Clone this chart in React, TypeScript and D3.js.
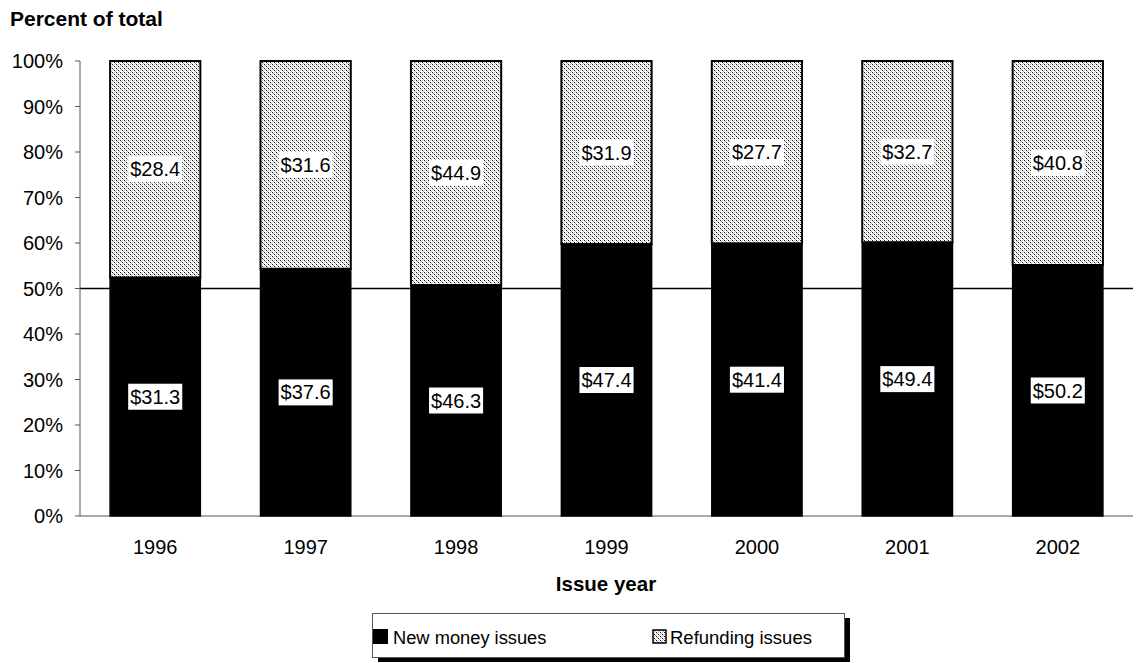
import React, { useEffect, useRef } from "react";
import * as d3 from "d3";

const years = ["1996", "1997", "1998", "1999", "2000", "2001", "2002"];
const newMoney = [31.3, 37.6, 46.3, 47.4, 41.4, 49.4, 50.2];
const refunding = [28.4, 31.6, 44.9, 31.9, 27.7, 32.7, 40.8];
const yTicks = [0, 10, 20, 30, 40, 50, 60, 70, 80, 90, 100];
const legendLabels = ["New money issues", "Refunding issues"];

const W = 1141;
const H = 663;
const FONT = "Liberation Sans, Arial, sans-serif";

export default function App() {
  const ref = useRef<SVGSVGElement>(null);

  useEffect(() => {
    const svg = d3.select(ref.current);
    svg.selectAll("*").remove();

    const defs = svg.append("defs");
    const pat = defs
      .append("pattern")
      .attr("id", "dots")
      .attr("patternUnits", "userSpaceOnUse")
      .attr("width", 4)
      .attr("height", 4);
    pat.append("rect").attr("width", 4).attr("height", 4).attr("fill", "#fff");
    const px: [number, number, string][] = [
      [0, 0, "#111"],
      [2, 2, "#111"],
      [1, 1, "#aaa"],
      [3, 3, "#aaa"],
      [2, 0, "#ccc"],
      [0, 2, "#ccc"],
    ];
    px.forEach(([a, b, c]) =>
      pat.append("rect").attr("x", a).attr("y", b).attr("width", 1).attr("height", 1).attr("fill", c)
    );

    const left = 80;
    const right = 1133;
    const top = 61;
    const bottom = 516;

    const x = d3.scaleBand<string>().domain(years).range([left, right]).paddingInner(0.4).paddingOuter(0.2);
    const y = d3.scaleLinear().domain([0, 100]).range([bottom, top]);

    const g = svg.append("g");

    // 50% reference line
    g.append("line")
      .attr("x1", left)
      .attr("x2", right)
      .attr("y1", y(50))
      .attr("y2", y(50))
      .attr("stroke", "#000")
      .attr("stroke-width", 1.5);

    // axes
    g.append("line").attr("x1", left).attr("x2", left).attr("y1", top).attr("y2", bottom).attr("stroke", "#555").attr("stroke-width", 1);
    g.append("line").attr("x1", left).attr("x2", right).attr("y1", bottom).attr("y2", bottom).attr("stroke", "#555").attr("stroke-width", 1);

    yTicks.forEach((t) => {
      g.append("line").attr("x1", left - 5).attr("x2", left).attr("y1", y(t)).attr("y2", y(t)).attr("stroke", "#555");
      g.append("text")
        .attr("x", 63)
        .attr("y", y(t) + 7)
        .attr("text-anchor", "end")
        .attr("font-family", FONT)
        .attr("font-size", 20)
        .text(`${t}%`);
    });

    years.forEach((yr, i) => {
      const total = newMoney[i] + refunding[i];
      const pNew = (newMoney[i] / total) * 100;
      const bx = x(yr)!;
      const bw = x.bandwidth();
      // new money
      g.append("rect")
        .attr("x", bx)
        .attr("y", y(pNew))
        .attr("width", bw)
        .attr("height", y(0) - y(pNew))
        .attr("fill", "#000")
        .attr("stroke", "#000")
        .attr("stroke-width", 1.5);
      // refunding
      g.append("rect")
        .attr("x", bx)
        .attr("y", y(100))
        .attr("width", bw)
        .attr("height", y(pNew) - y(100))
        .attr("fill", "url(#dots)")
        .attr("stroke", "#000")
        .attr("stroke-width", 2);

      const cx = bx + bw / 2;
      const labels = [
        { v: newMoney[i], cy: (y(0) + y(pNew)) / 2 },
        { v: refunding[i], cy: (y(pNew) + y(100)) / 2 },
      ];
      labels.forEach((l) => {
        const rect = g.append("rect").attr("fill", "#fff");
        const txt = g
          .append("text")
          .attr("x", cx)
          .attr("y", l.cy + 7)
          .attr("text-anchor", "middle")
          .attr("font-family", FONT)
          .attr("font-size", 20)
          .text(`$${l.v.toFixed(1)}`);
        const bb = (txt.node() as SVGTextElement).getBBox();
        rect
          .attr("x", bb.x - 2)
          .attr("y", l.cy - 13)
          .attr("width", bb.width + 4)
          .attr("height", 26);
      });

      g.append("text")
        .attr("x", cx)
        .attr("y", 554)
        .attr("text-anchor", "middle")
        .attr("font-family", FONT)
        .attr("font-size", 20)
        .text(yr);
    });

    // titles
    svg.append("text")
      .attr("x", 10)
      .attr("y", 26)
      .attr("font-family", FONT)
      .attr("font-size", 21)
      .attr("font-weight", "bold")
      .text("Percent of total");

    svg.append("text")
      .attr("x", 606)
      .attr("y", 591)
      .attr("text-anchor", "middle")
      .attr("font-family", FONT)
      .attr("font-size", 20.5)
      .attr("font-weight", "bold")
      .text("Issue year");

    // legend
    const lg = svg.append("g");
    lg.append("rect").attr("x", 378).attr("y", 618).attr("width", 472).attr("height", 44).attr("fill", "#000");
    lg.append("rect").attr("x", 372.5).attr("y", 613.5).attr("width", 472).attr("height", 44).attr("fill", "#fff").attr("stroke", "#555").attr("stroke-width", 1);
    lg.append("rect").attr("x", 373).attr("y", 629).attr("width", 15).attr("height", 15).attr("fill", "#000");
    lg.append("text").attr("x", 393).attr("y", 644).attr("font-family", FONT).attr("font-size", 18.3).text(legendLabels[0]);
    lg.append("rect").attr("x", 653).attr("y", 630).attr("width", 13).attr("height", 13).attr("fill", "url(#dots)").attr("stroke", "#000").attr("stroke-width", 1.5);
    lg.append("text").attr("x", 670).attr("y", 644).attr("font-family", FONT).attr("font-size", 18.5).text(legendLabels[1]);
  }, []);

  return (
    <svg
      ref={ref}
      width={W}
      height={H}
      style={{ position: "absolute", left: 0, top: 0, background: "#fff" }}
    />
  );
}
